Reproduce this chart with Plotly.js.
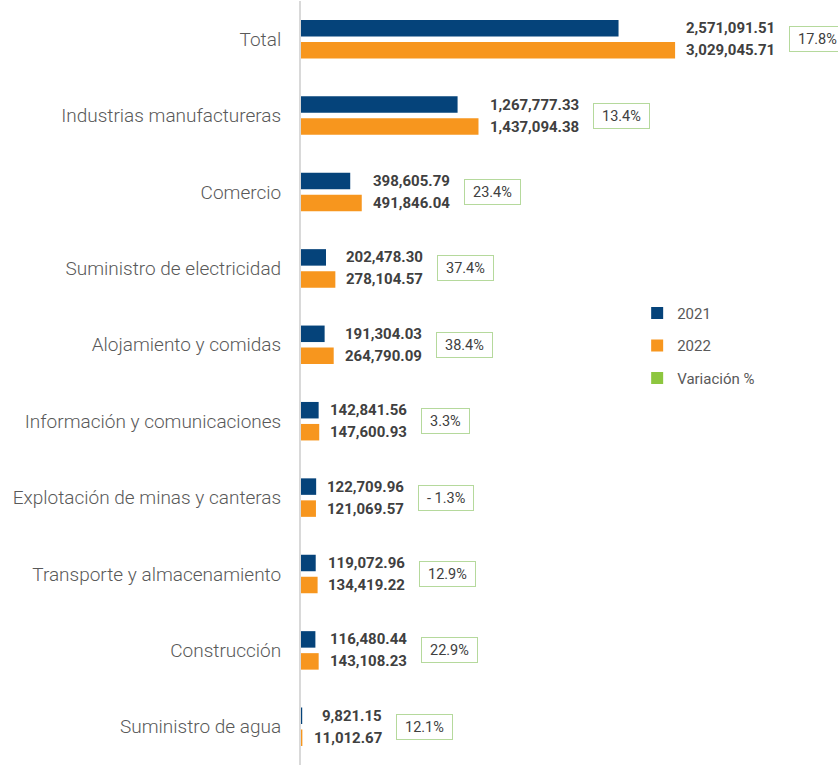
<!DOCTYPE html>
<html>
<head>
<meta charset="utf-8">
<script src="https://cdn.plot.ly/plotly-3.0.1.min.js"></script>
<style>html,body{margin:0;padding:0;background:#fff;}#chart{width:838px;height:767px;}</style>
</head>
<body>
<div id="chart"></div>
<script>
const categories = ['Total','Industrias manufactureras','Comercio','Suministro de electricidad','Alojamiento y comidas','Información y comunicaciones','Explotación de minas y canteras','Transporte y almacenamiento','Construcción','Suministro de agua'];
const v2021 = [2571091.51,1267777.33,398605.79,202478.30,191304.03,142841.56,122709.96,119072.96,116480.44,9821.15];
const v2022 = [3029045.71,1437094.38,491846.04,278104.57,264790.09,147600.93,121069.57,134419.22,143108.23,11012.67];
const variation = [17.8,13.4,23.4,37.4,38.4,3.3,-1.3,12.9,22.9,12.1];
const seriesNames = ['2021','2022','Variación %'];

const C2021 = '#05437a', C2022 = '#f7961e', CVAR = '#8dc63f';
const fmt = v => v.toLocaleString('en-US',{minimumFractionDigits:2, maximumFractionDigits:2});
const fmtPct = v => (v < 0 ? '- ' + Math.abs(v).toFixed(1) : v.toFixed(1)) + '%';

const cv = document.createElement('canvas').getContext('2d');
function tw(txt, font){ cv.font = font; return cv.measureText(txt).width; }
const LBL_FONT = {family:'Roboto, sans-serif', size:15, color:'#404040', weight:700};
const PCT_FONT = {family:'Roboto, sans-serif', size:14.5, color:'#404040'};

const annotations = [];
categories.forEach((c,i)=>{
  const a = fmt(v2021[i]), b = fmt(v2022[i]);
  const mx = Math.max(v2021[i], v2022[i]);
  const w = Math.max(tw(a,'bold 15px Roboto'), tw(b,'bold 15px Roboto'));
  annotations.push({x:mx, y:c, xref:'x', yref:'y', xanchor:'right', yanchor:'middle', xshift:12 + w, yshift:11,
    text:a, showarrow:false, font:LBL_FONT, borderpad:0});
  annotations.push({x:mx, y:c, xref:'x', yref:'y', xanchor:'right', yanchor:'middle', xshift:12 + w, yshift:-11,
    text:b, showarrow:false, font:LBL_FONT, borderpad:0});
  const p = fmtPct(variation[i]);
  const pw = tw(p,'14.5px Roboto');
  annotations.push({x:mx, y:c, xref:'x', yref:'y', xanchor:'left', yanchor:'middle', xshift:12 + w + 13, yshift:0,
    text:p, showarrow:false, font:PCT_FONT, bordercolor:'#b5d99c', borderwidth:1, borderpad:3,
    width: pw + 10, height: 18, bgcolor:'#ffffff'});
});

const data = [
  {type:'bar', orientation:'h', name:seriesNames[0], x:v2021, y:categories, marker:{color:C2021}, legendgroup:'a', hoverinfo:'skip'},
  {type:'bar', orientation:'h', name:seriesNames[1], x:v2022, y:categories, marker:{color:C2022}, legendgroup:'b', hoverinfo:'skip'},
  {type:'scatter', mode:'markers', name:seriesNames[2], x:[null], y:[null], marker:{color:CVAR, symbol:'square', size:12}, legendgroup:'c', hoverinfo:'skip'}
];

const layout = {
  width:838, height:767,
  margin:{l:301, r:0, t:1, b:2},
  paper_bgcolor:'#fff', plot_bgcolor:'#fff',
  barmode:'group', bargap:0.424, bargroupgap:0.25,
  showlegend:true,
  legend:{x:0.626, y:0.613, xanchor:'left', yanchor:'top', traceorder:'grouped', tracegroupgap:10,
    font:{family:'Roboto, sans-serif', size:15, color:'#595959'}, bgcolor:'rgba(0,0,0,0)'},
  xaxis:{range:[0,4348000], visible:false, showgrid:false, zeroline:false, fixedrange:true},
  yaxis:{type:'category', autorange:'reversed', showline:true, linecolor:'#d9d9d9', linewidth:2,
    showgrid:false, zeroline:false, ticks:'', ticklabelstandoff:14,
    tickfont:{family:'Roboto, sans-serif', size:19, color:'#595959', weight:300}, fixedrange:true},
  annotations:annotations,
  font:{family:'Roboto, sans-serif'}
};

Plotly.newPlot('chart', data, layout, {displayModeBar:false, staticPlot:true});
</script>
</body>
</html>
